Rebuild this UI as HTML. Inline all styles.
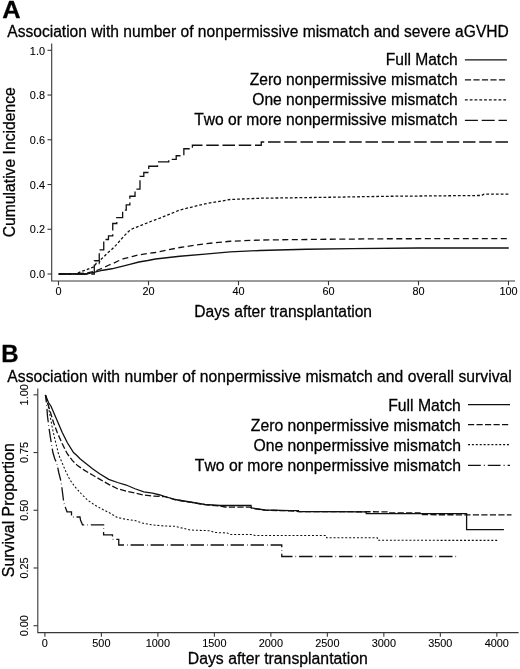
<!DOCTYPE html>
<html lang="en"><head><meta charset="utf-8"><title>Figure</title>
<style>html,body{margin:0;padding:0;background:#fff}body{width:520px;height:669px;overflow:hidden}svg{display:block;will-change:transform}</style>
</head><body>
<svg width="520" height="669" viewBox="0 0 520 669" font-family='"Liberation Sans", Arial, Helvetica, sans-serif' fill="#000">
<style>text{stroke:#000;stroke-width:0.28px;stroke-linejoin:round;font-kerning:none}text.t{stroke-width:0.1px}</style>
<rect width="520" height="669" fill="#fff"/>
<text transform="translate(2.2 18) scale(1.06 1)" font-size="24" font-weight="bold" fill="#000">A</text>
<text x="7.3" y="36.8" font-size="15.6" textLength="501.5" lengthAdjust="spacing">Association with number of nonpermissive mismatch and severe aGVHD</text>
<g stroke="#383838" stroke-width="1.1" fill="none">
<path d="M51.7 43.5 V281.05 H515"/>
<path d="M47.5 274.00 H51.8"/>
<path d="M47.5 229.26 H51.8"/>
<path d="M47.5 184.52 H51.8"/>
<path d="M47.5 139.78 H51.8"/>
<path d="M47.5 95.04 H51.8"/>
<path d="M47.5 50.30 H51.8"/>
<path d="M58.50 281 V285.3"/>
<path d="M148.50 281 V285.3"/>
<path d="M238.50 281 V285.3"/>
<path d="M328.50 281 V285.3"/>
<path d="M418.50 281 V285.3"/>
<path d="M508.50 281 V285.3"/>
</g>
<text x="45" y="278.20" text-anchor="end" font-size="10.9" class="t">0.0</text>
<text x="45" y="233.46" text-anchor="end" font-size="10.9" class="t">0.2</text>
<text x="45" y="188.72" text-anchor="end" font-size="10.9" class="t">0.4</text>
<text x="45" y="143.98" text-anchor="end" font-size="10.9" class="t">0.6</text>
<text x="45" y="99.24" text-anchor="end" font-size="10.9" class="t">0.8</text>
<text x="45" y="54.50" text-anchor="end" font-size="10.9" class="t">1.0</text>
<text x="58.50" y="295.4" text-anchor="middle" font-size="10.9" class="t">0</text>
<text x="148.50" y="295.4" text-anchor="middle" font-size="10.9" class="t">20</text>
<text x="238.50" y="295.4" text-anchor="middle" font-size="10.9" class="t">40</text>
<text x="328.50" y="295.4" text-anchor="middle" font-size="10.9" class="t">60</text>
<text x="418.50" y="295.4" text-anchor="middle" font-size="10.9" class="t">80</text>
<text x="508.50" y="295.4" text-anchor="middle" font-size="10.9" class="t">100</text>
<text x="283.2" y="317.1" text-anchor="middle" font-size="15.6">Days after transplantation</text>
<text transform="translate(14.7 162.3) rotate(-90)" text-anchor="middle" font-size="15.7">Cumulative Incidence</text>
<g stroke="#111" stroke-width="1.3" fill="none" stroke-linejoin="miter">
<path d="M58.75 274.00 L76.75 273.89 L84.85 274.23 L93.85 272.49 L102.85 270.24 L111.85 268.76 L120.85 266.51 L129.85 264.26 L138.85 262.01 L147.85 260.50 L155.50 258.99 L179.80 256.23 L205.00 254.20 L230.20 251.95 L259.90 250.49 L306.25 249.25 L351.25 248.69 L418.75 248.01 L508.75 248.01"/>
<path d="M58.75 274.00 L75.85 273.89 L85.75 273.10 L94.75 271.30 L97.90 270.00 L102.98 267.99 L107.98 265.50 L113.02 263.49 L118.02 261.00 L123.01 258.99 L128.00 257.69 L133.00 256.34 L137.95 255.01 L146.95 253.50 L155.05 252.51 L179.80 247.50 L205.00 243.74 L230.20 241.26 L259.90 240.03 L328.75 239.24 L389.95 238.74 L508.75 238.68" stroke-dasharray="6 3.5"/>
<path d="M58.75 274.00 L75.85 273.89 L81.25 271.52 L85.97 270.00 L91.02 267.99 L94.48 266.51 L96.10 263.49 L99.03 263.49 L100.15 260.05 L103.75 256.90 L107.48 253.10 L111.27 249.99 L115.59 245.60 L120.00 240.61 L124.41 235.59 L128.77 231.25 L132.50 228.75 L138.76 226.25 L145.02 223.76 L151.27 221.26 L160.00 218.11 L179.80 210.01 L205.00 203.80 L230.20 199.52 L259.90 198.24 L328.75 197.27 L389.95 196.26 L481.75 195.48 L484.00 194.12 L508.75 194.12" stroke-dasharray="2.8 2"/>
<path d="M58.75 274.00 L94.30 274.00 L94.30 274.00 L94.30 274.00 L94.30 260.73 L99.25 260.73 L99.25 249.79 L103.75 249.79 L103.75 239.51 L108.47 239.51 L108.47 235.97 L112.75 235.97 L112.75 223.51 L116.80 223.51 L116.80 217.53 L122.65 217.53 L122.65 210.10 L126.25 210.10 L126.25 204.93 L129.85 204.93 L129.85 196.26 L135.02 196.26 L135.02 189.18 L139.98 189.18 L139.98 176.35 L143.80 176.35 L143.80 172.52 L148.75 172.52 L148.75 166.23 L157.52 166.23 L157.52 161.95 L168.77 161.95 L168.77 159.47 L176.20 159.47 L176.20 155.76 L183.85 155.76 L183.85 148.74 L192.40 148.74 L192.40 145.25 L261.25 145.25 L261.25 141.99 L508.75 141.99 L508.75 141.99" stroke-dasharray="12.5 3.75"/>
</g>
<text x="457.7" y="64.7" text-anchor="end" font-size="15.6">Full Match</text>
<path d="M464.9 59.9 H506.9" stroke="#111" stroke-width="1.15" fill="none" />
<text x="457.7" y="85.0" text-anchor="end" font-size="15.6">Zero nonpermissive mismatch</text>
<path d="M464.9 79.9 H506.9" stroke="#111" stroke-width="1.15" fill="none" stroke-dasharray="6.2 2.3"/>
<text x="457.7" y="105.0" text-anchor="end" font-size="15.6">One nonpermissive mismatch</text>
<path d="M464.9 99.9 H506.9" stroke="#111" stroke-width="1.15" fill="none" stroke-dasharray="2.8 2"/>
<text x="457.7" y="125.4" text-anchor="end" font-size="15.6">Two or more nonpermissive mismatch</text>
<path d="M464.9 120.4 H506.9" stroke="#111" stroke-width="1.15" fill="none" stroke-dasharray="13 3.8"/>

<text x="1.2" y="361.8" font-size="24" font-weight="bold" fill="#000">B</text>
<text x="7.3" y="381.5" font-size="15.7" textLength="504.5" lengthAdjust="spacing">Association with number of nonpermissive mismatch and overall survival</text>
<g stroke="#383838" stroke-width="1.1" fill="none">
<path d="M37.8 388.5 V632.6 H518.6"/>
<path d="M33.5 625.70 H37.8"/>
<path d="M33.5 567.98 H37.8"/>
<path d="M33.5 510.25 H37.8"/>
<path d="M33.5 452.53 H37.8"/>
<path d="M33.5 394.80 H37.8"/>
<path d="M44.90 632.6 V636.8"/>
<path d="M101.39 632.6 V636.8"/>
<path d="M157.88 632.6 V636.8"/>
<path d="M214.37 632.6 V636.8"/>
<path d="M270.86 632.6 V636.8"/>
<path d="M327.35 632.6 V636.8"/>
<path d="M383.84 632.6 V636.8"/>
<path d="M440.33 632.6 V636.8"/>
<path d="M496.82 632.6 V636.8"/>
</g>
<text transform="translate(27.7 625.70) rotate(-90)" text-anchor="middle" font-size="10.9" class="t">0.00</text>
<text transform="translate(27.7 567.98) rotate(-90)" text-anchor="middle" font-size="10.9" class="t">0.25</text>
<text transform="translate(27.7 510.25) rotate(-90)" text-anchor="middle" font-size="10.9" class="t">0.50</text>
<text transform="translate(27.7 452.53) rotate(-90)" text-anchor="middle" font-size="10.9" class="t">0.75</text>
<text transform="translate(27.7 394.80) rotate(-90)" text-anchor="middle" font-size="10.9" class="t">1.00</text>
<text x="44.90" y="647.3" text-anchor="middle" font-size="10.9" class="t">0</text>
<text x="101.39" y="647.3" text-anchor="middle" font-size="10.9" class="t">500</text>
<text x="157.88" y="647.3" text-anchor="middle" font-size="10.9" class="t">1000</text>
<text x="214.37" y="647.3" text-anchor="middle" font-size="10.9" class="t">1500</text>
<text x="270.86" y="647.3" text-anchor="middle" font-size="10.9" class="t">2000</text>
<text x="327.35" y="647.3" text-anchor="middle" font-size="10.9" class="t">2500</text>
<text x="383.84" y="647.3" text-anchor="middle" font-size="10.9" class="t">3000</text>
<text x="440.33" y="647.3" text-anchor="middle" font-size="10.9" class="t">3500</text>
<text x="496.82" y="647.3" text-anchor="middle" font-size="10.9" class="t">4000</text>
<text x="277.8" y="663.5" text-anchor="middle" font-size="15.8">Days after transplantation</text>
<text transform="translate(13.6 510.2) rotate(-90) scale(1 1.08)" text-anchor="middle" font-size="15.87">Survival Proportion</text>
<g stroke="#111" stroke-width="1.3" fill="none" stroke-linejoin="miter">
<path d="M45.40 395.00 L48.50 402.50 L51.00 406.25 L54.75 415.00 L58.50 423.75 L62.25 432.50 L67.25 442.50 L73.50 452.50 L76.90 455.50 L80.00 458.75 L86.25 463.75 L92.50 468.75 L100.00 474.00 L108.75 479.40 L117.50 482.50 L126.25 485.00 L135.00 488.75 L143.75 491.90 L152.50 493.10 L160.00 495.00 L165.00 496.50 L175.00 499.50 L190.00 502.00 L205.00 504.50 L220.00 505.50 L251.00 505.50 L251.50 508.00 L265.00 510.00 L290.00 510.60 L298.50 510.70 L299.00 511.50 L366.00 511.80 L366.30 513.70 L466.60 513.70 L466.60 529.60 L503.90 529.60"/>
<path d="M45.40 395.00 L49.75 410.00 L53.50 422.50 L57.25 432.50 L62.25 443.75 L67.25 453.75 L72.50 460.60 L77.50 465.60 L85.00 470.60 L92.50 475.00 L100.00 479.40 L108.75 484.40 L117.50 488.75 L126.25 491.25 L135.00 493.10 L143.75 495.00 L152.50 496.00 L165.00 496.70 L175.00 499.70 L190.00 502.20 L205.00 504.70 L220.00 506.00 L225.00 507.00 L250.00 507.20 L252.00 508.30 L265.00 510.20 L290.00 510.80 L299.00 511.60 L388.50 511.80 L389.00 513.00 L420.00 513.00 L420.50 514.70 L511.50 514.90" stroke-dasharray="6.2 2.3"/>
<path d="M45.40 395.00 L48.50 407.50 L50.40 417.50 L52.25 427.50 L54.75 438.75 L57.25 448.75 L58.75 455.00 L60.40 458.75 L62.50 463.75 L66.25 472.50 L70.00 480.00 L75.00 486.90 L81.25 493.75 L87.50 500.00 L93.75 504.40 L100.00 508.00 L108.75 512.50 L117.50 517.50 L126.25 519.40 L135.00 520.60 L142.50 523.10 L152.50 525.00 L165.00 526.00 L175.00 526.25 L185.00 528.75 L190.00 530.00 L210.00 530.75 L215.00 532.50 L227.50 533.00 L230.00 534.50 L252.50 534.50 L255.00 535.50 L326.20 535.50 L326.60 537.70 L377.30 537.70 L377.80 540.30 L498.80 540.40" stroke-dasharray="2 1.9" stroke-width="1.05"/>
<path d="M45.40 395.00 L46.60 403.75 L47.50 416.25 L49.10 428.75 L51.00 441.25 L52.90 452.50 L54.75 458.75 L56.90 463.50 L58.75 472.50 L61.25 482.50 L62.50 492.50 L63.75 502.50 L65.00 506.25 L67.00 511.80 L71.50 511.80 L71.50 517.00 L80.00 517.00 L80.50 520.00 L82.50 524.80 L103.60 524.80 L103.60 534.80 L112.50 534.80 L112.50 539.30 L118.75 539.30 L118.75 545.00 L281.75 545.00 L281.75 556.50 L456.50 556.50" stroke-dasharray="13.4 3 0.6 3" stroke-dashoffset="6"/>
</g>
<text x="460.9" y="410.5" text-anchor="end" font-size="15.75">Full Match</text>
<path d="M468.0 404.6 H510.0" stroke="#111" stroke-width="1.15" fill="none" />
<text x="460.9" y="430.5" text-anchor="end" font-size="15.75">Zero nonpermissive mismatch</text>
<path d="M468.0 424.6 H510.0" stroke="#111" stroke-width="1.15" fill="none" stroke-dasharray="6.2 2.3"/>
<text x="460.9" y="450.5" text-anchor="end" font-size="15.75">One nonpermissive mismatch</text>
<path d="M468.0 444.6 H510.0" stroke="#111" stroke-width="1.15" fill="none" stroke-dasharray="2 1.9"/>
<text x="460.9" y="471.1" text-anchor="end" font-size="15.75">Two or more nonpermissive mismatch</text>
<path d="M468.0 465.4 H510.0" stroke="#111" stroke-width="1.15" fill="none" stroke-dasharray="12.8 3 1 3"/>

</svg>
</body></html>
